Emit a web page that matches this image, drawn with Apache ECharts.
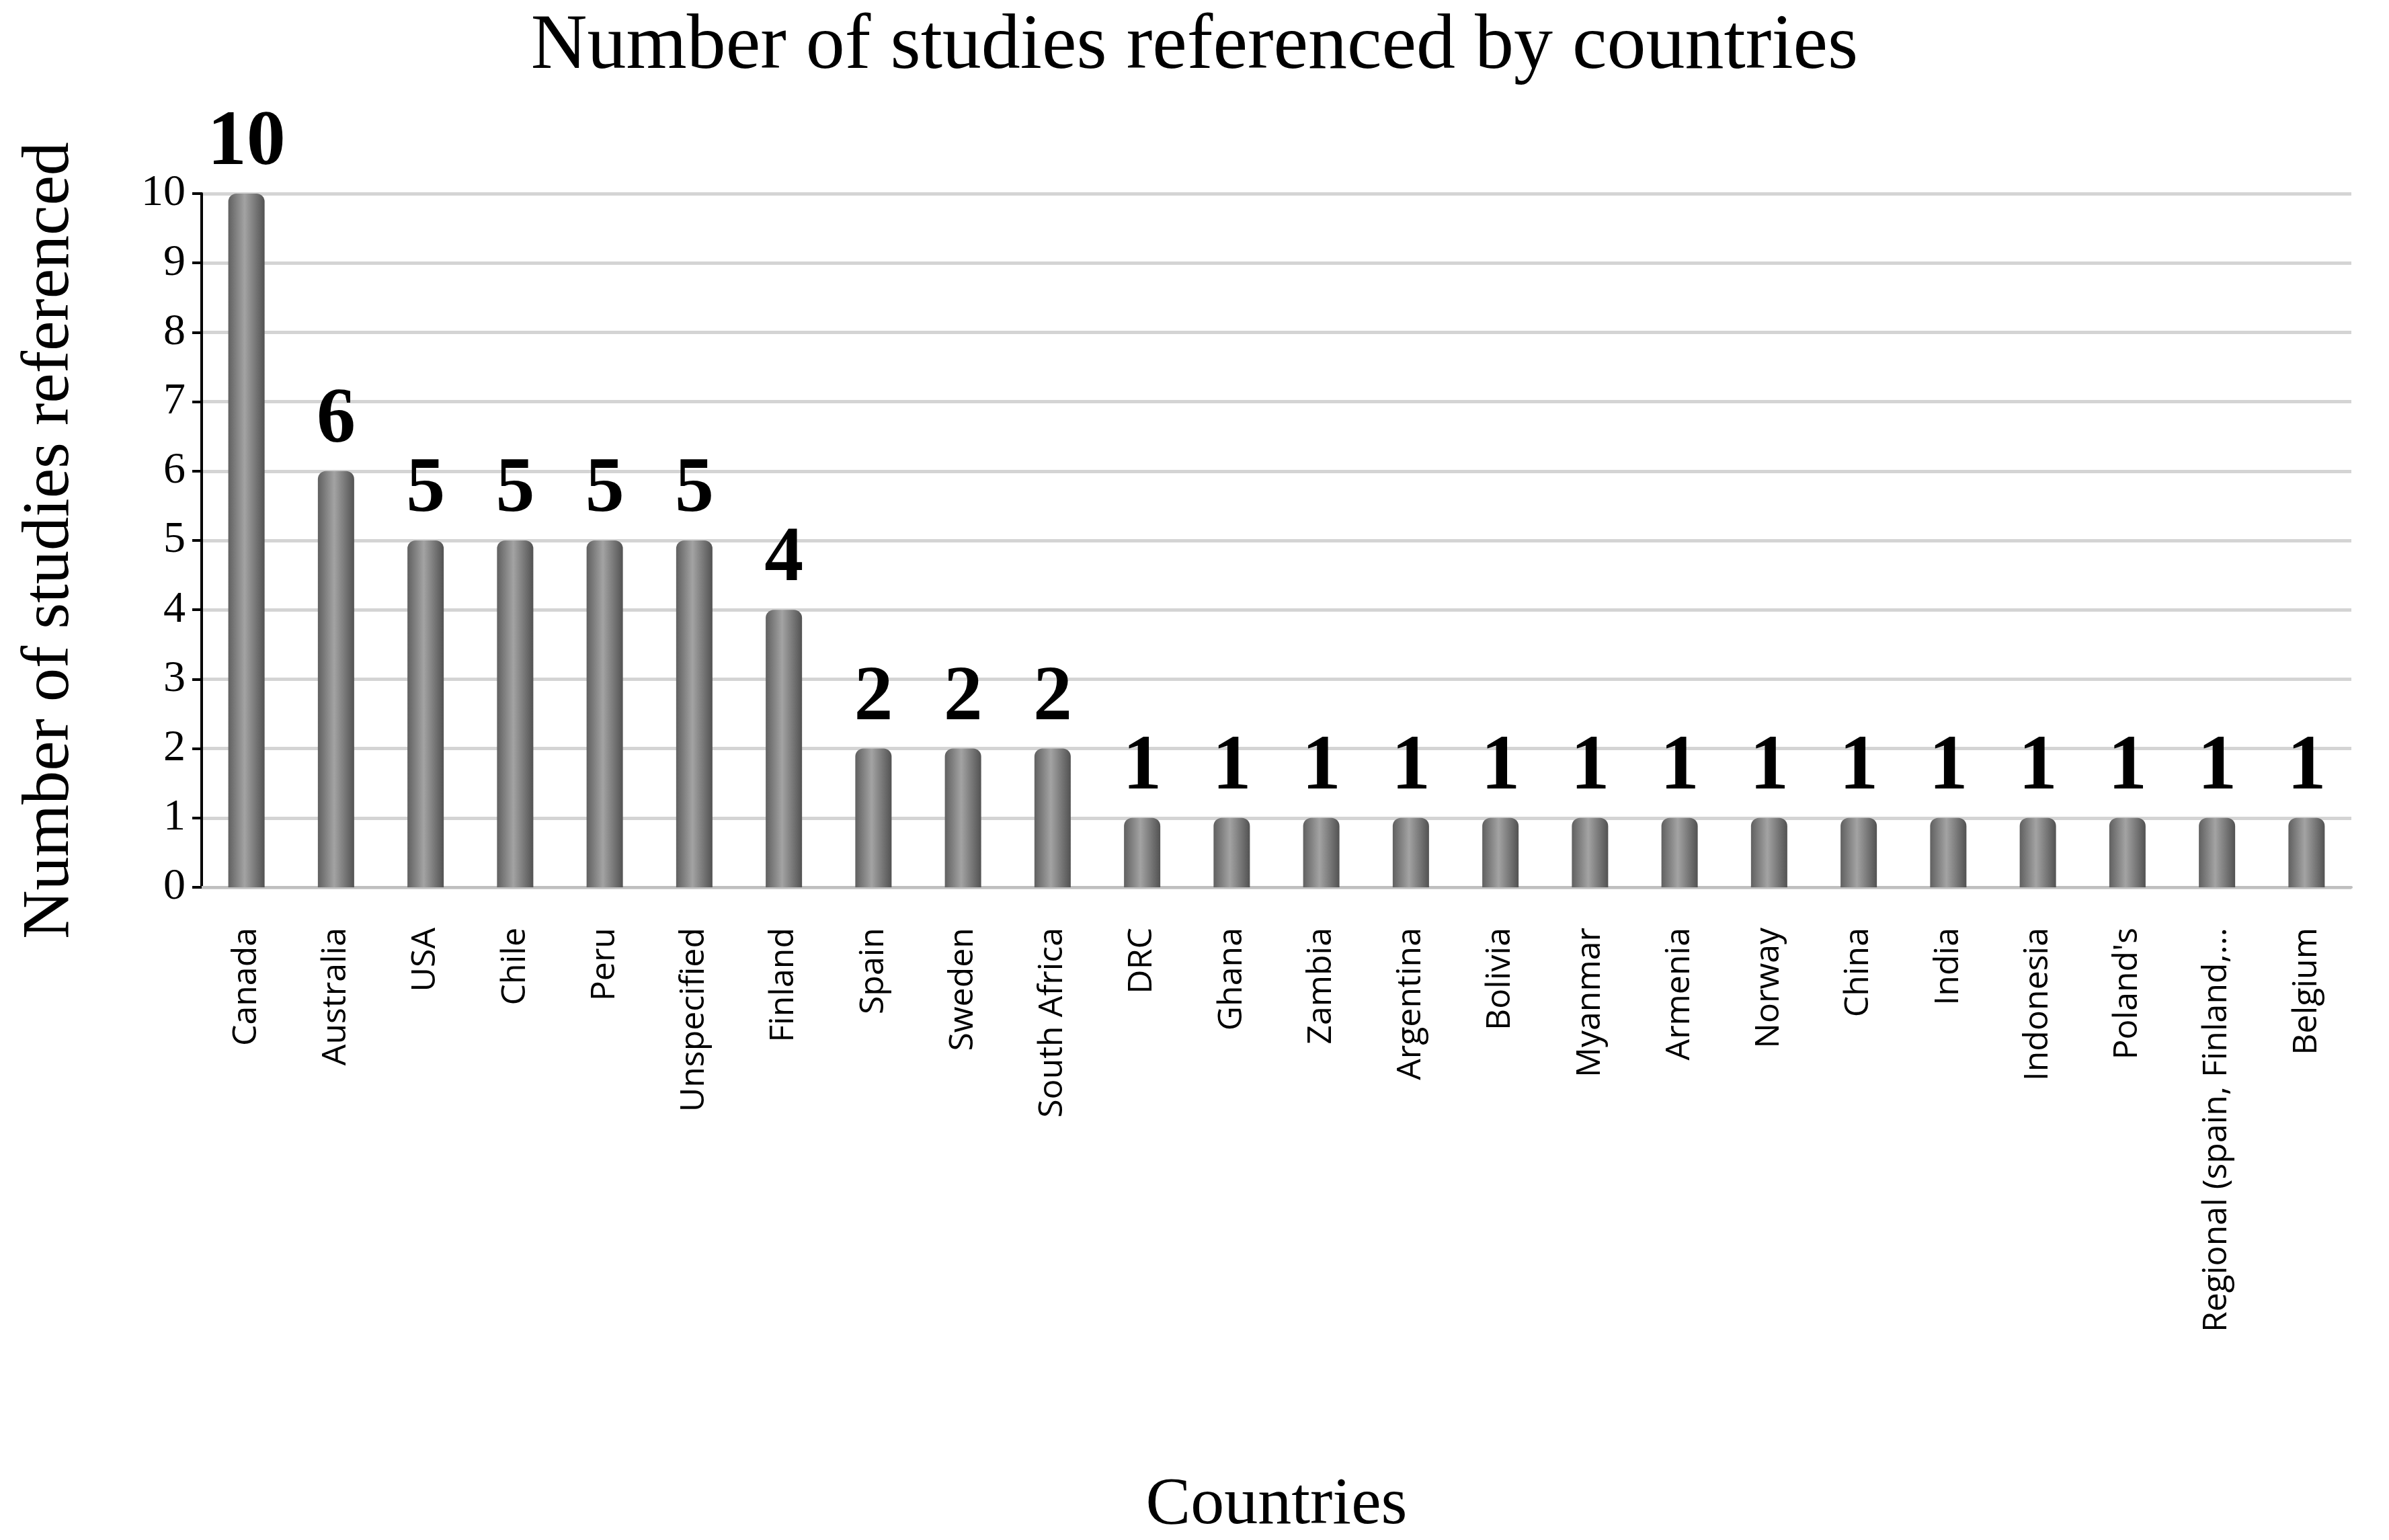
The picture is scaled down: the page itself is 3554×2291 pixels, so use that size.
<!DOCTYPE html>
<html>
<head>
<meta charset="utf-8">
<script src="https://cdn.jsdelivr.net/npm/echarts@6/dist/echarts.min.js"></script>
<style>html,body{margin:0;background:#fff}#chart{width:3554px;height:2291px}</style>
</head>
<body>
<div id="chart"></div>
<script>
const countries = ['Canada', 'Australia', 'USA', 'Chile', 'Peru', 'Unspecified', 'Finland', 'Spain', 'Sweden',
  'South Africa', 'DRC', 'Ghana', 'Zambia', 'Argentina', 'Bolivia', 'Myanmar', 'Armenia', 'Norway', 'China',
  'India', 'Indonesia', "Poland's", 'Regional (spain, Finland,...', 'Belgium'];
const studies = [10, 6, 5, 5, 5, 5, 4, 2, 2, 2, 1, 1, 1, 1, 1, 1, 1, 1, 1, 1, 1, 1, 1, 1];

const chart = echarts.init(document.getElementById('chart'));
const serif = '"Liberation Serif", "DejaVu Serif", serif';

chart.setOption({
  animation: false,
  title: {
    text: 'Number of studies referenced by countries',
    left: 'center',
    top: 8,
    textStyle: { fontFamily: serif, fontSize: 116, fontWeight: 'normal', color: '#000' }
  },
  grid: { left: 300, right: 56, top: 288, bottom: 944 },
  xAxis: {
    type: 'category',
    data: countries,
    name: 'Countries',
    nameLocation: 'middle',
    nameGap: 870,
    nameTextStyle: { fontFamily: serif, fontSize: 100, color: '#000' },
    axisLine: { lineStyle: { color: '#bfbfbf', width: 4 } },
    axisTick: { show: false },
    axisLabel: {
      rotate: 90, interval: 0, margin: 60,
      fontFamily: '"Open Sans", "Liberation Sans", sans-serif', fontSize: 50, color: '#000'
    }
  },
  yAxis: {
    type: 'value',
    min: 0, max: 10, interval: 1,
    name: 'Number of studies referenced',
    nameLocation: 'middle',
    nameGap: 175,
    nameTextStyle: { fontFamily: serif, fontSize: 100, color: '#000' },
    axisLine: { show: true, lineStyle: { color: '#000', width: 4 } },
    axisTick: { show: true, length: 14, lineStyle: { color: '#000', width: 4 } },
    axisLabel: { fontFamily: serif, fontSize: 66, color: '#000', margin: 24 },
    splitLine: { lineStyle: { color: '#d4d4d4', width: 5 } }
  },
  series: [{
    type: 'bar',
    data: studies,
    barWidth: 54,
    itemStyle: {
      borderRadius: [12, 12, 0, 0],
      color: new echarts.graphic.LinearGradient(0, 0, 1, 0, [
        { offset: 0, color: '#606060' },
        { offset: 0.45, color: '#a3a3a3' },
        { offset: 1, color: '#525252' }
      ])
    },
    label: {
      show: true, position: 'top', distance: 16,
      fontFamily: serif, fontSize: 116, fontWeight: 'bold', color: '#000'
    }
  }]
});
</script>
</body>
</html>
